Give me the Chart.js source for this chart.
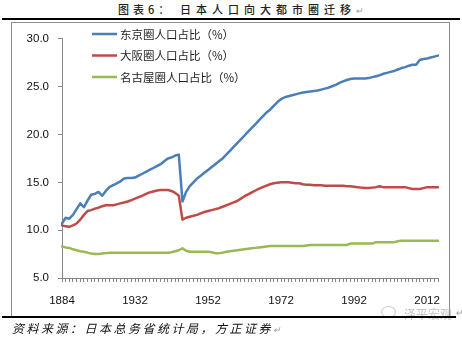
<!DOCTYPE html>
<html>
<head>
<meta charset="utf-8">
<script src="https://cdn.jsdelivr.net/npm/chart.js@4.4.1/dist/chart.umd.min.js"></script>
<style>
  html,body{margin:0;padding:0;background:#fff;}
  #page{position:relative;width:462px;height:337px;overflow:hidden;background:#fff;font-family:"Noto Sans CJK SC",sans-serif;}
  .abs{position:absolute;white-space:nowrap;}
  .ret{color:#999;font-size:9px;letter-spacing:0;font-weight:normal;}
  #frame{position:absolute;left:11px;top:22px;width:439px;height:296px;border:1px solid #8c8c8c;box-sizing:border-box;}
  #chart{position:absolute;left:12px;top:23px;}
  .rule{position:absolute;background:#000;height:2px;}
</style>
</head>
<body>
<div id="page">
  <div class="abs" style="left:118px;top:1px;font-size:11px;letter-spacing:4px;color:#222;font-weight:500;">图表6：</div>
  <div class="abs" style="left:180px;top:1px;font-size:11px;letter-spacing:5px;color:#222;font-weight:500;">日本人口向大都市圈迁移<span class="ret">↵</span></div>
  <div class="rule" style="left:2px;top:18px;width:458px;"></div>

  <div id="frame"></div>
  <canvas id="chart" width="438" height="293"></canvas>

  <div class="abs" style="left:381px;top:306px;width:13px;height:10px;border:1px solid #c8c8c8;border-radius:50%;"></div>
  <div class="abs" style="left:404px;top:305px;font-size:12px;color:#c4c4c4;">泽平宏观</div>
  <div class="rule" style="left:2px;top:316px;width:454px;"></div>
  <div class="abs ret" style="left:456px;top:306px;">↵</div>

  <div class="abs" style="left:12px;top:319px;font-size:12px;letter-spacing:2.5px;font-style:italic;color:#111;">资料来源：日本总务省统计局，方正证券<span class="ret">↵</span></div>
</div>

<script>
// 年份（1920年以前为不等间隔）
const years = [
  "1884","1888","1893","1898","1903","1908","1913","1918",
  "1920","1921","1922","1923","1924","1925","1926","1927","1928","1929",
  "1930","1931","1932","1933","1934","1935","1936","1937","1938","1939",
  "1940","1941","1942","1943","1944","1945","1946","1947","1948","1949",
  "1950","1951","1952","1953","1954","1955","1956","1957","1958","1959",
  "1960","1961","1962","1963","1964","1965","1966","1967","1968","1969",
  "1970","1971","1972","1973","1974","1975","1976","1977","1978","1979",
  "1980","1981","1982","1983","1984","1985","1986","1987","1988","1989",
  "1990","1991","1992","1993","1994","1995","1996","1997","1998","1999",
  "2000","2001","2002","2003","2004","2005","2006","2007","2008","2009",
  "2010","2011","2012","2013","2014","2015"
];
// 每隔20个类别显示一个年份标签
const shownYears = ["1884","1932","1952","1972","1992","2012"];
const yTicks = [5,10,15,20,25,30];

const tokyo = [
  10.7,11.3,11.2,11.6,12.2,12.8,12.4,13.1,
  13.7,13.8,14.0,13.6,14.1,14.5,14.7,14.9,15.1,15.4,
  15.45,15.45,15.5,15.7,15.9,16.1,16.3,16.5,16.7,16.9,
  17.2,17.5,17.6,17.8,17.9,13.0,14.0,14.6,15.0,15.4,
  15.7,16.0,16.3,16.6,16.9,17.2,17.5,17.9,18.3,18.7,
  19.1,19.5,19.9,20.3,20.7,21.1,21.5,21.9,22.3,22.6,
  23.0,23.4,23.7,23.9,24.0,24.1,24.2,24.3,24.4,24.45,
  24.5,24.55,24.6,24.7,24.8,24.9,25.05,25.2,25.4,25.55,
  25.7,25.8,25.85,25.85,25.85,25.85,25.9,26.0,26.1,26.2,
  26.35,26.45,26.55,26.65,26.8,26.95,27.05,27.2,27.3,27.3,
  27.8,27.9,27.95,28.05,28.15,28.25
];
const osaka = [
  10.5,10.4,10.35,10.5,10.7,11.1,11.6,12.0,
  12.1,12.25,12.35,12.5,12.6,12.6,12.6,12.7,12.8,12.9,
  13.0,13.15,13.3,13.45,13.6,13.8,13.95,14.05,14.15,14.2,
  14.2,14.2,14.1,13.9,13.6,11.1,11.3,11.4,11.5,11.6,
  11.75,11.9,12.0,12.1,12.2,12.3,12.45,12.6,12.75,12.9,
  13.05,13.3,13.55,13.75,13.95,14.15,14.35,14.5,14.65,14.8,
  14.9,14.95,15.0,15.0,15.0,14.95,14.9,14.9,14.8,14.75,
  14.75,14.7,14.7,14.7,14.65,14.65,14.65,14.65,14.65,14.65,
  14.6,14.6,14.55,14.5,14.45,14.4,14.4,14.45,14.5,14.6,
  14.5,14.5,14.5,14.5,14.5,14.5,14.5,14.4,14.3,14.3,
  14.3,14.4,14.5,14.5,14.5,14.5
];
const nagoya = [
  8.3,8.2,8.15,8.0,7.9,7.8,7.75,7.65,
  7.55,7.5,7.5,7.55,7.6,7.65,7.65,7.65,7.65,7.65,
  7.65,7.65,7.65,7.65,7.65,7.65,7.65,7.65,7.65,7.65,
  7.65,7.65,7.7,7.8,7.9,8.1,7.85,7.75,7.75,7.75,
  7.75,7.75,7.75,7.7,7.6,7.6,7.65,7.75,7.8,7.85,
  7.9,7.95,8.0,8.05,8.1,8.15,8.2,8.25,8.3,8.35,
  8.35,8.35,8.35,8.35,8.35,8.35,8.35,8.35,8.35,8.4,
  8.45,8.45,8.45,8.45,8.45,8.45,8.45,8.45,8.45,8.45,
  8.45,8.6,8.6,8.6,8.6,8.6,8.6,8.6,8.75,8.75,
  8.75,8.75,8.75,8.75,8.85,8.9,8.9,8.9,8.9,8.9,
  8.9,8.9,8.9,8.9,8.9,8.9
];

const seriesNames = ["东京圈人口占比（%）","大阪圈人口占比（%）","名古屋圈人口占比（%）"];
const seriesColors = ["#4a7ebb","#be4b48","#98b954"];
const axisColor = "#868686";
const labelFont = {family:"'Liberation Sans', Arial, sans-serif", size:11.5};

// 图例画在绘图区左上角
const innerLegend = {
  id:"innerLegend",
  afterDraw(chart){
    const c = chart.ctx;
    c.save();
    c.font = "11.5px 'Noto Sans CJK SC', sans-serif";
    c.textBaseline = "middle";
    chart.data.datasets.forEach((ds,i)=>{
      const y = 11 + i*21.5;
      c.strokeStyle = ds.borderColor;
      c.lineWidth = 2.5;
      c.beginPath();c.moveTo(80,y);c.lineTo(105,y);c.stroke();
      c.fillStyle = "#222";
      c.fillText(ds.label,108,y+0.5);
    });
    c.restore();
  }
};

const ctx = document.getElementById("chart").getContext("2d");
new Chart(ctx,{
  type:"line",
  data:{
    labels:years,
    datasets:[tokyo,osaka,nagoya].map((d,i)=>({
      label:seriesNames[i],
      data:d,
      borderColor:seriesColors[i],
      backgroundColor:seriesColors[i],
      borderWidth:2.5,
      pointRadius:0,
      tension:0,
      borderJoinStyle:"round",
      borderCapStyle:"round"
    }))
  },
  options:{
    responsive:false,
    animation:false,
    devicePixelRatio:1,
    layout:{padding:{left:0,top:14,right:11,bottom:0}},
    plugins:{legend:{display:false},tooltip:{enabled:false}},
    scales:{
      x:{
        type:"category",
        offset:false,
        afterFit(s){s.height=38;},
        grid:{display:true,drawOnChartArea:false,drawTicks:true,tickLength:4,color:axisColor,offset:false},
        border:{display:true,color:axisColor,width:1},
        ticks:{
          autoSkip:false,maxRotation:0,minRotation:0,padding:12,
          color:"#111",font:labelFont,
          callback(v){const l=this.getLabelForValue(v);return shownYears.includes(l)?l:"";}
        }
      },
      y:{
        min:5,max:30,
        afterFit(s){s.width=50;},
        afterBuildTicks(s){s.ticks=yTicks.map(v=>({value:v}));},
        grid:{display:true,drawOnChartArea:false,drawTicks:true,tickLength:4,color:axisColor},
        border:{display:true,color:axisColor,width:1},
        ticks:{padding:9,color:"#111",font:labelFont,callback:v=>Number(v).toFixed(1)}
      }
    }
  },
  plugins:[innerLegend]
});
</script>
</body>
</html>
